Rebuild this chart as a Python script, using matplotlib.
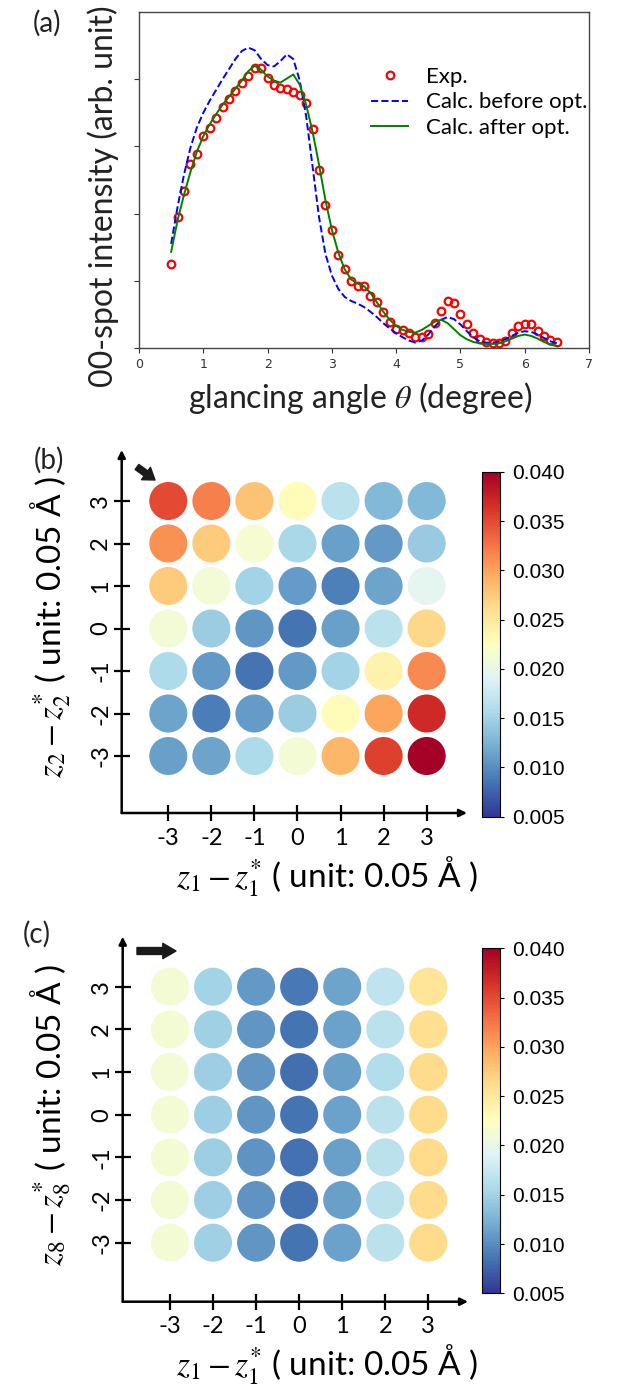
import numpy as np
import matplotlib
matplotlib.use("Agg")
import matplotlib.pyplot as plt

plt.rcParams['font.family'] = ['Lato', 'DejaVu Sans']
plt.rcParams['mathtext.fontset'] = 'stix'

# ---------- panel (a) data ----------
theta_exp = [0.5, 0.6, 0.7, 0.8, 0.9, 1.0, 1.1, 1.2, 1.3, 1.4, 1.5, 1.6, 1.7, 1.8, 1.9,
             2.0, 2.1, 2.2, 2.3, 2.4, 2.5, 2.6, 2.7, 2.8, 2.9, 3.0, 3.1, 3.2, 3.3, 3.4,
             3.5, 3.6, 3.7, 3.8, 3.9, 4.0, 4.1, 4.2, 4.3, 4.4, 4.5, 4.6, 4.7, 4.8, 4.9,
             5.0, 5.1, 5.2, 5.3, 5.4, 5.5, 5.6, 5.7, 5.8, 5.9, 6.0, 6.1, 6.2, 6.3, 6.4, 6.5]
exp_int = [1.25, 1.95, 2.33, 2.74, 2.89, 3.15, 3.27, 3.42, 3.59, 3.70, 3.83, 3.95, 4.05, 4.17, 4.16,
           4.02, 3.92, 3.87, 3.85, 3.81, 3.77, 3.65, 3.26, 2.65, 2.13, 1.75, 1.39, 1.18, 1.00, 0.92,
           0.93, 0.78, 0.68, 0.53, 0.39, 0.29, 0.27, 0.22, 0.16, 0.16, 0.21, 0.37, 0.55, 0.70, 0.67,
           0.51, 0.36, 0.22, 0.14, 0.09, 0.08, 0.08, 0.11, 0.22, 0.32, 0.36, 0.36, 0.25, 0.18, 0.12, 0.09]
theta_calc = theta_exp
calc_before = [1.55, 2.10, 2.58, 2.98, 3.28, 3.50, 3.68, 3.84, 4.00, 4.15, 4.30, 4.42, 4.47, 4.43, 4.30,
               4.21, 4.19, 4.27, 4.37, 4.30, 3.98, 3.45, 2.70, 1.95, 1.40, 1.08, 0.88, 0.76, 0.70, 0.66,
               0.61, 0.54, 0.46, 0.37, 0.29, 0.22, 0.16, 0.11, 0.08, 0.11, 0.20, 0.32, 0.42, 0.46, 0.43,
               0.35, 0.25, 0.16, 0.10, 0.08, 0.08, 0.09, 0.13, 0.18, 0.23, 0.25, 0.24, 0.20, 0.15, 0.10, 0.07]
calc_after = [1.43, 1.90, 2.28, 2.62, 2.92, 3.15, 3.33, 3.48, 3.62, 3.74, 3.86, 3.98, 4.12, 4.20, 4.14,
              4.04, 3.98, 3.95, 4.01, 4.07, 3.92, 3.62, 3.22, 2.73, 2.20, 1.76, 1.42, 1.17, 1.02, 0.96,
              0.92, 0.82, 0.68, 0.54, 0.42, 0.33, 0.27, 0.24, 0.23, 0.27, 0.33, 0.39, 0.42, 0.37, 0.28,
              0.19, 0.13, 0.09, 0.07, 0.06, 0.06, 0.07, 0.10, 0.14, 0.18, 0.20, 0.18, 0.14, 0.09, 0.05, 0.03]

# ---------- panels (b), (c) data: rows from z=3 (top) to z=-3 ----------
grid_ticks = [-3, -2, -1, 0, 1, 2, 3]
rows_top_down = [3, 2, 1, 0, -1, -2, -3]
err_b = [
    [0.0350, 0.0320, 0.0280, 0.0230, 0.0165, 0.0130, 0.0130],
    [0.0310, 0.0275, 0.0215, 0.0155, 0.0112, 0.0108, 0.0143],
    [0.0275, 0.0210, 0.0150, 0.0110, 0.0092, 0.0115, 0.0195],
    [0.0210, 0.0145, 0.0105, 0.0085, 0.0112, 0.0165, 0.0265],
    [0.0158, 0.0108, 0.0085, 0.0108, 0.0150, 0.0240, 0.0315],
    [0.0115, 0.0090, 0.0110, 0.0145, 0.0230, 0.0300, 0.0370],
    [0.0112, 0.0115, 0.0157, 0.0212, 0.0288, 0.0355, 0.0400],
]
err_c = [
    [0.0212, 0.0150, 0.0108, 0.0088, 0.0115, 0.0168, 0.0255],
    [0.0212, 0.0148, 0.0106, 0.0085, 0.0113, 0.0165, 0.0260],
    [0.0210, 0.0147, 0.0105, 0.0082, 0.0112, 0.0160, 0.0262],
    [0.0212, 0.0147, 0.0105, 0.0085, 0.0113, 0.0165, 0.0262],
    [0.0212, 0.0147, 0.0104, 0.0084, 0.0112, 0.0165, 0.0263],
    [0.0212, 0.0147, 0.0104, 0.0084, 0.0112, 0.0165, 0.0263],
    [0.0212, 0.0148, 0.0105, 0.0085, 0.0113, 0.0166, 0.0262],
]
cbar_ticks = [0.005, 0.010, 0.015, 0.020, 0.025, 0.030, 0.035, 0.040]

W, H = 633, 1385
fig = plt.figure(figsize=(W / 100, H / 100), dpi=100)


def box(l, t, r, b):
    return [l / W, 1 - b / H, (r - l) / W, (b - t) / H]


def fpos(x, y):
    return (x / W, 1 - y / H)


# ---------- (a) ----------
ax = fig.add_axes(box(139, 12, 589, 348))
ax.plot(theta_exp, exp_int, 'o', mfc='none', mec='red', ms=5.5, mew=1.6,
        label='Exp.', zorder=2)
ax.plot(theta_calc, calc_before, '--', color='blue', lw=1.4, label='Calc. before opt.', zorder=3)
ax.plot(theta_calc, calc_after, '-', color='green', lw=1.4, label='Calc. after opt.', zorder=3)
ax.set_xlim(0, 7)
ax.set_ylim(0, 5)
ax.set_xticks(range(8))
ax.set_yticks([0, 1, 2, 3, 4])
ax.set_yticklabels([])
ax.tick_params(labelsize=9, colors='#333333', length=3.5, width=0.8)
for lab in ax.get_xticklabels():
    lab.set_family('DejaVu Sans')
for sp in ax.spines.values():
    sp.set_color('#444444')
    sp.set_linewidth(1.0)
ax.legend(loc='upper left', bbox_to_anchor=(0.49, 0.87), frameon=False, fontsize=16,
          borderpad=0, handlelength=1.7, handletextpad=0.8, labelspacing=0.25)
fig.text(*fpos(103, 196), '00-spot intensity (arb. unit)', rotation=90,
         ha='center', va='center', fontsize=23, color='#222222')
fig.text(*fpos(360, 398), r'glancing angle $\theta$ (degree)', ha='center', va='center',
         fontsize=23, color='#222222')
fig.text(*fpos(47, 23), '(a)', ha='center', va='center', fontsize=20, color='#222222')

cmap = plt.get_cmap('RdYlBu_r')


def grid_panel(rect, xlim, ylim, values, cbar_rect, ylab, label_pos, lab_txt,
               xlab_y, ylab_y, arrow_from, arrow_to, arrow_style):
    ax = fig.add_axes(box(*rect))
    xs, ys, cs = [], [], []
    for i, zr in enumerate(rows_top_down):
        for j, zc in enumerate(grid_ticks):
            xs.append(zc)
            ys.append(zr)
            cs.append(values[i][j])
    sc = ax.scatter(xs, ys, c=cs, s=750, cmap=cmap, vmin=0.005, vmax=0.040,
                    edgecolors='none', zorder=2)
    ax.set_xlim(*xlim)
    ax.set_ylim(*ylim)
    for sp in ax.spines.values():
        sp.set_visible(False)
    ax.set_xticks(grid_ticks)
    ax.set_yticks(grid_ticks)
    ax.set_xticklabels([str(t) for t in grid_ticks])
    ax.set_yticklabels([str(t) for t in grid_ticks], rotation=90, va='center')
    ax.tick_params(axis='x', direction='inout', length=11, width=1.6, labelsize=17, pad=5)
    ax.tick_params(axis='y', direction='inout', length=11, width=1.6, labelsize=17, pad=2)
    arr = dict(arrowstyle='-|>', lw=1.8, color='black', mutation_scale=11, shrinkA=0, shrinkB=0)
    ax.annotate('', xy=(1, 0), xytext=(0, 0), xycoords='axes fraction', arrowprops=arr)
    ax.annotate('', xy=(0, 1), xytext=(0, 0), xycoords='axes fraction', arrowprops=arr)
    ax.annotate('', xy=fpos(*arrow_to), xytext=fpos(*arrow_from), xycoords='figure fraction',
                arrowprops=dict(arrowstyle=arrow_style, mutation_scale=10, color='#1a1a1a',
                                shrinkA=0, shrinkB=0))

    cax = fig.add_axes(box(*cbar_rect))
    cb = fig.colorbar(sc, cax=cax, ticks=cbar_ticks, format='%.3f')
    cb.outline.set_linewidth(0.8)
    cax.tick_params(length=3, width=0.8, labelsize=15, pad=6)
    for lab in cax.get_yticklabels():
        lab.set_family('Liberation Sans')

    fig.text(*fpos(327, xlab_y), r'$z_1 - z_1^{*}$ ( unit: 0.05 Å )', ha='center', va='baseline',
             fontsize=24)
    fig.text(*fpos(50, ylab_y), ylab, rotation=90, ha='center', va='center', fontsize=24)
    fig.text(*fpos(*label_pos), lab_txt, ha='center', va='center', fontsize=20, color='#222222')


grid_panel((121.7, 450, 467, 813), (-4.082, 3.936), (-4.341, 4.2), err_b,
           (481.7, 472, 500, 816.7), r'$z_2 - z_2^{*}$ ( unit: 0.05 Å )', (49, 460), '(b)',
           887, 627, (137, 467), (155, 480),
           'simple,head_length=0.8,head_width=1.1,tail_width=0.45')
grid_panel((122.7, 936.7, 468, 1301.7), (-4.099, 3.922), (-4.383, 4.172), err_c,
           (481.7, 948.3, 500, 1293.3), r'$z_8 - z_8^{*}$ ( unit: 0.05 Å )', (37, 934), '(c)',
           1375, 1115, (137, 951), (176, 951),
           'simple,head_length=0.95,head_width=1.1,tail_width=0.5')

fig.savefig('out.png', dpi=100)
